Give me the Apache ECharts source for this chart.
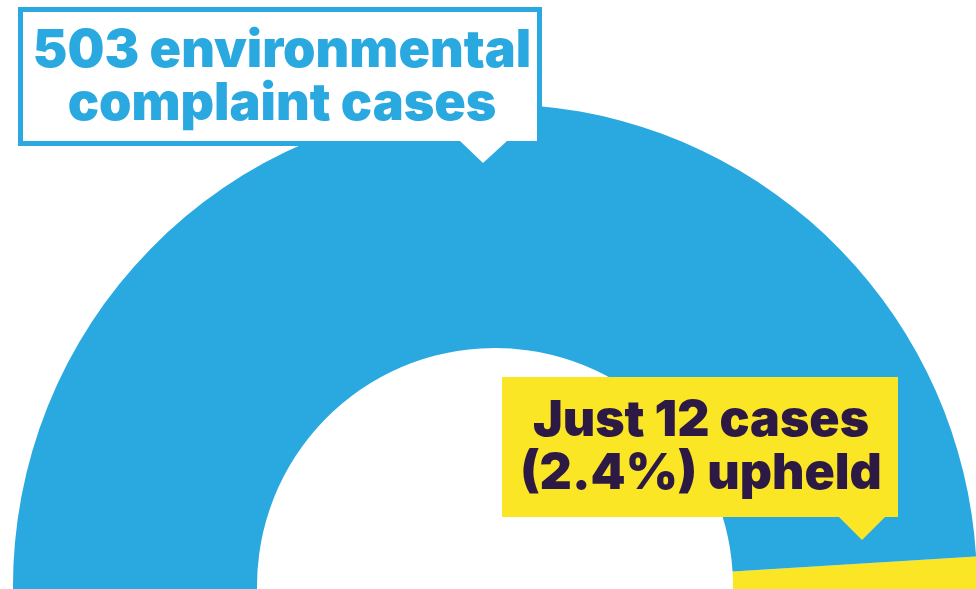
<!DOCTYPE html>
<html>
<head>
<meta charset="utf-8">
<script src="https://cdn.jsdelivr.net/npm/echarts@6/dist/echarts.min.js"></script>
<style>
html,body{margin:0;padding:0;background:#ffffff;}
#chart{width:976px;height:589px;}
</style>
</head>
<body>
<div id="chart"></div>
<script>
// Data
const categories = ['Upheld', 'Not upheld'];
const caseCounts = [12, 491];
const sliceColors = ['#fbe625', '#2aa9e0'];
const totalLabel = ['503 environmental', 'complaint cases'];
const upheldLabel = ['Just 12 cases', '(2.4%) upheld'];

const chart = echarts.init(document.getElementById('chart'), null, {renderer: 'canvas'});

const pieData = categories.map((c, i) => ({
  name: c,
  value: caseCounts[i],
  itemStyle: {color: sliceColors[i]}
}));

const FONT = 'Inter, "Noto Sans", sans-serif';

chart.setOption({
  animation: false,
  backgroundColor: '#ffffff',
  series: [{
    type: 'pie',
    center: [495, 586],
    radius: [238, 482],
    startAngle: 3.5,
    clockwise: true,
    silent: true,
    label: {show: false},
    labelLine: {show: false},
    itemStyle: {borderWidth: 0},
    data: pieData
  }],
  graphic: [
    // Blue-outlined callout
    {
      type: 'rect', z: 10,
      shape: {x: 20.5, y: 9.5, width: 519, height: 134},
      style: {fill: '#ffffff', stroke: '#2aa9e0', lineWidth: 5}
    },
    {
      type: 'polygon', z: 11,
      shape: {points: [[460, 141], [507, 141], [483, 163]]},
      style: {fill: '#ffffff'}
    },
    {
      type: 'text', z: 12,
      style: {
        x: 282, y: 78, text: totalLabel.join('\n'),
        font: '900 52px ' + FONT, fill: '#2aa9e0',
        align: 'center', verticalAlign: 'middle', lineHeight: 53
      }
    },
    // Yellow callout
    {
      type: 'rect', z: 10,
      shape: {x: 502, y: 377, width: 396, height: 140},
      style: {fill: '#fbe625'}
    },
    {
      type: 'polygon', z: 11,
      shape: {points: [[838, 516], [886, 516], [862, 540]]},
      style: {fill: '#fbe625'}
    },
    {
      type: 'text', z: 12,
      style: {
        x: 701, y: 447, text: upheldLabel.join('\n'),
        font: '900 50px ' + FONT, fill: '#2c1a45',
        align: 'center', verticalAlign: 'middle', lineHeight: 53
      }
    }
  ]
});
</script>
</body>
</html>
